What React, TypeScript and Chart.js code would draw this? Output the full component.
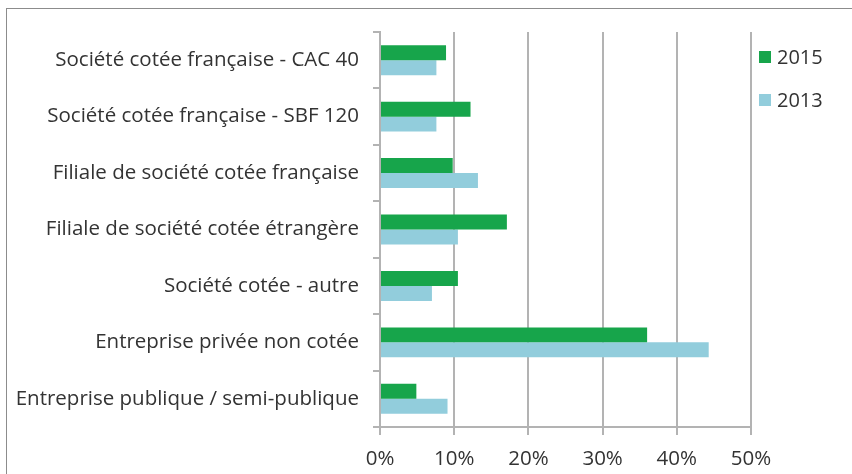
import React, { useEffect, useRef } from "react";
import { Chart, registerables } from "chart.js";

Chart.register(...registerables);

const categories = [
  "Société cotée française - CAC 40",
  "Société cotée française - SBF 120",
  "Filiale de société cotée française",
  "Filiale de société cotée étrangère",
  "Société cotée - autre",
  "Entreprise privée non cotée",
  "Entreprise publique / semi-publique",
];
const series2015 = [8.9, 12.2, 9.8, 17.1, 10.5, 36.0, 4.9];
const series2013 = [7.6, 7.6, 13.2, 10.5, 7.0, 44.3, 9.1];
const seriesLabels = ["2015", "2013"];
const xTicks = [0, 10, 20, 30, 40, 50];

const GREEN = "#17a54b";
const BLUE = "#92cddc";
const GRID = "#b3b3b3";
const TEXT = "#333333";
const FONT = "'Open Sans', sans-serif";
const FS = 20.5;

const legendPlugin = {
  id: "customLegend",
  afterDraw(chart: any) {
    const ctx = chart.ctx;
    ctx.save();
    ctx.font = `20px ${FONT}`;
    ctx.textBaseline = "middle";
    ctx.textAlign = "left";
    chart.data.datasets.forEach((ds: any, i: number) => {
      const y = 57 + i * 43;
      ctx.fillStyle = ds.backgroundColor;
      ctx.fillRect(759, y - 6, 12, 12);
      ctx.fillStyle = TEXT;
      ctx.fillText(ds.label, 777, y + 1);
    });
    ctx.restore();
  },
};

export default function App() {
  const ref = useRef<HTMLCanvasElement>(null);
  useEffect(() => {
    if (!ref.current) return;
    const chart = new Chart(ref.current, {
      type: "bar",
      data: {
        labels: categories,
        datasets: [
          { label: seriesLabels[0], data: series2015, backgroundColor: GREEN },
          { label: seriesLabels[1], data: series2013, backgroundColor: BLUE },
        ],
      },
      options: {
        indexAxis: "y",
        animation: false,
        responsive: false,
        maintainAspectRatio: false,
        datasets: { bar: { categoryPercentage: 0.53, barPercentage: 1 } },
        layout: { padding: { top: 32, right: 101, bottom: 0, left: 0 } },
        plugins: { legend: { display: false }, tooltip: { enabled: false } },
        scales: {
          x: {
            min: 0,
            max: 50,
            afterBuildTicks: (s: any) => {
              s.ticks = xTicks.map((v) => ({ value: v }));
            },
            afterFit: (s: any) => {
              s.height = 47;
            },
            ticks: {
              callback: (v: any) => v + "%",
              color: TEXT,
              font: { family: FONT, size: FS },
              padding: 12,
              maxRotation: 0,
            },
            grid: { color: GRID, lineWidth: 2, tickLength: 8 },
            border: { color: GRID, width: 2 },
          },
          y: {
            afterFit: (s: any) => {
              s.width = 380;
            },
            ticks: {
              color: TEXT,
              font: { family: FONT, size: FS },
              padding: 14,
            },
            grid: { drawOnChartArea: false, color: GRID, lineWidth: 2, tickLength: 7 },
            border: { color: GRID, width: 2 },
          },
        },
      },
      plugins: [legendPlugin],
    });
    return () => chart.destroy();
  }, []);
  return (
    <div style={{ position: "fixed", left: 0, top: 0, width: 852, height: 474, overflow: "hidden", background: "#fff" }}>
      <div style={{ position: "absolute", left: 6, top: 8, width: 900, height: 600, border: "1px solid #8c8c8c" }} />
      <canvas ref={ref} width={852} height={474} style={{ position: "absolute", left: 0, top: 0 }} />
    </div>
  );
}
